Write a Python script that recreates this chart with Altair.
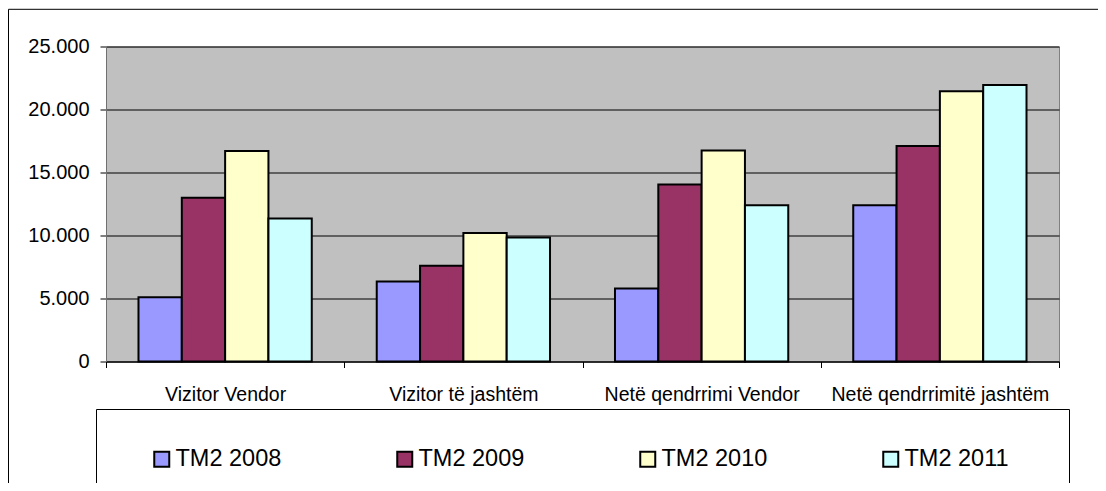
import altair as alt
import pandas as pd

categories = ["Vizitor Vendor", "Vizitor të jashtëm", "Netë qendrrimi Vendor", "Netë qendrrimitë jashtëm"]
series = ["TM2 2008", "TM2 2009", "TM2 2010", "TM2 2011"]
v2008 = [5100, 6350, 5800, 12400]
v2009 = [13000, 7600, 14050, 17100]
v2010 = [16700, 10200, 16750, 21450]
v2011 = [11350, 9850, 12400, 21950]
colors = ["#9999FF", "#993366", "#FFFFCC", "#CCFFFF"]
y_ticks = [0, 5000, 10000, 15000, 20000, 25000]

rows = []
for s, vals in zip(series, [v2008, v2009, v2010, v2011]):
    for c, v in zip(categories, vals):
        rows.append({"category": c, "series": s, "value": v})
df = pd.DataFrame(rows)

FONT = "Liberation Sans"

bars = alt.Chart(df).mark_bar().encode(
    x=alt.X("category:N", sort=categories, title=None,
            scale=alt.Scale(paddingInner=0, paddingOuter=0),
            axis=alt.Axis(labelAngle=0, labelFontSize=19.5, labelFont=FONT, labelColor="black",
                          labelPadding=18, tickSize=6, tickColor="black", tickBand="extent",
                          domainColor="black", labelOverlap=False, labelLimit=400, grid=False)),
    xOffset=alt.XOffset("series:N", sort=series,
                        scale=alt.Scale(paddingOuter=0.75, paddingInner=0)),
    y=alt.Y("value:Q", title=None, scale=alt.Scale(domain=[0, 25000], nice=False),
            axis=alt.Axis(values=y_ticks,
                          labelExpr="replace(format(datum.value, ','), ',', '.')",
                          labelFont=FONT, labelFontSize=20, labelColor="black",
                          labelPadding=11, tickSize=6, tickColor="black",
                          domainColor="#707070", gridColor="black", gridWidth=1)),
    stroke=alt.value("black"),
    strokeWidth=alt.value(2),
    color=alt.Color("series:N", sort=series,
                    scale=alt.Scale(domain=series, range=colors),
                    legend=alt.Legend(title="\u00a0", titleOrient="right", titlePadding=22,
                                      titleFontSize=2,
                                      orient="none", legendX=-10, legendY=362.5,
                                      direction="horizontal", columns=4,
                                      symbolType="square", symbolSize=225,
                                      symbolStrokeColor="black", symbolStrokeWidth=2,
                                      symbolOffset=16,
                                      labelFont=FONT, labelFontSize=23.5, labelColor="black",
                                      labelOffset=2, labelLimit=400,
                                      columnPadding=95, padding=38,
                                      strokeColor="black", fillColor="white")),
)

frame = alt.Chart(pd.DataFrame({"a": [0]})).mark_rect(
    fillOpacity=0, stroke="black", strokeWidth=1
).encode(x=alt.value(-97.5), x2=alt.value(1200), y=alt.value(-37.2), y2=alt.value(700))

chart = alt.layer(frame, bars).properties(
    width=953, height=315,
    padding={"left": 98, "top": 38.5, "right": 39, "bottom": 121.5},
    autosize=alt.AutoSizeParams(type="none"),
).configure_view(fill="#C0C0C0", stroke="#808080", strokeWidth=1)

chart.save("out.html", embed_options={"renderer": "svg", "actions": False})
